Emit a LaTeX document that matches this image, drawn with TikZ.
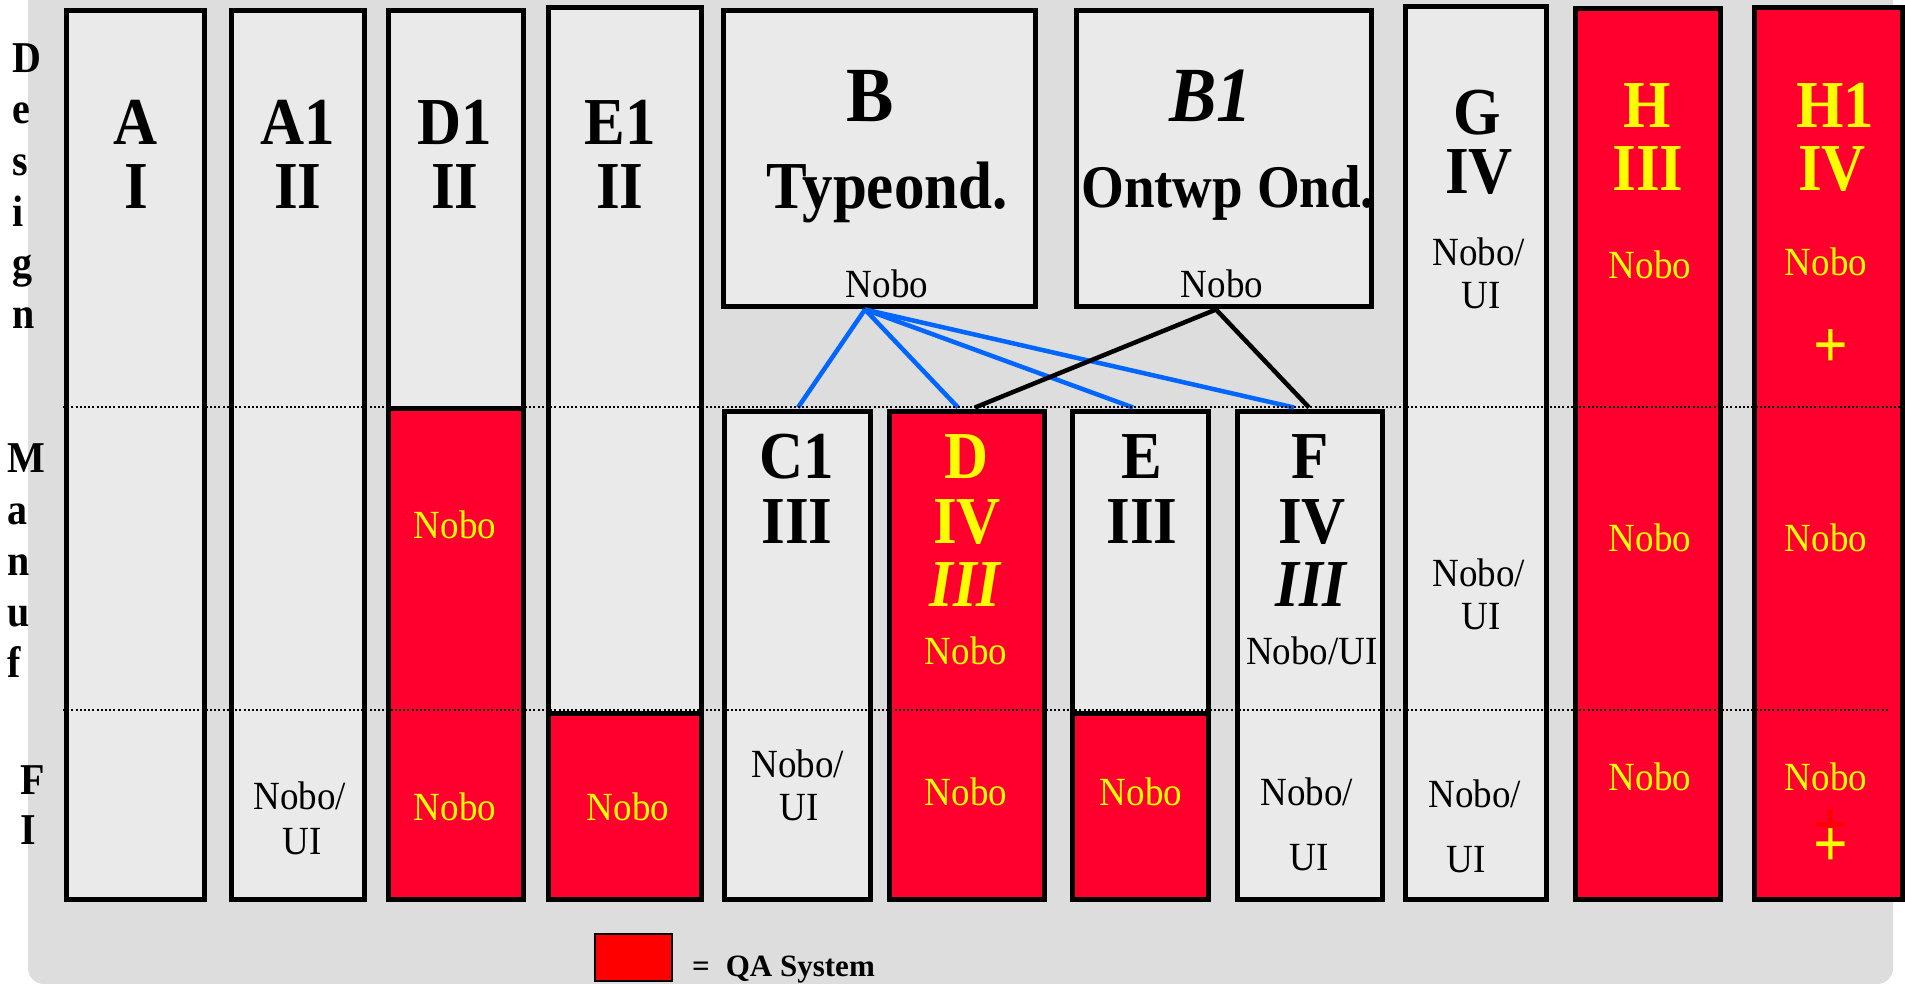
\documentclass[tikz,border=0pt]{standalone}
\usepackage{fontspec}
\setmainfont{Liberation Serif}
\usetikzlibrary{calc}
\definecolor{bggray}{HTML}{DDDDDD}
\definecolor{boxgray}{HTML}{EAEAEA}
\definecolor{qared}{HTML}{FF002E}
\definecolor{legred}{HTML}{FF0000}
\definecolor{linkblue}{HTML}{0066FF}
\definecolor{txtyellow}{HTML}{FFFF00}
\newcommand\colbox[6]{\node[#1, anchor=north west, minimum width={(#5)-(#3)}, minimum height={(#6)-(#4)}] (#2) at (#3,#4) {};}
\begin{document}
\begin{tikzpicture}[x=1pt,y=-1pt,
  box/.style={draw=black, line width=5pt, fill=boxgray, inner sep=0pt, outer sep=0pt},
  redbox/.style={box, fill=qared},
  big/.style={font=\fontsize{61}{64}\selectfont\bfseries, inner sep=0pt, anchor=base, yscale=1.1},
  med/.style={font=\fontsize{37}{44}\selectfont, inner sep=0pt, anchor=base, yscale=1.08},
  side/.style={font=\fontsize{40}{48}\selectfont\bfseries, inner sep=0pt, anchor=base west, yscale=1.1},
  yel/.style={text=txtyellow},
  blueline/.style={draw=linkblue, line width=4.5pt},
  blackline/.style={draw=black, line width=4.5pt},
  dotline/.style={draw=black, line width=2pt, dash pattern=on 2pt off 2.2pt}]
\useasboundingbox (0,0) rectangle (1905,983);
\fill[white] (0,0) rectangle (1905,983);
\begin{scope}
\clip (0,0) rectangle (1905,983);
\fill[bggray, rounded corners=16pt] (28,-30) rectangle (1893,984);
\end{scope}
% columns
\colbox{box}{A}{66}{10}{204}{899}
\colbox{box}{A1}{231}{10}{364}{899}
\colbox{box}{D1}{388}{10}{523}{408}
\colbox{redbox}{D1r}{388}{408}{523}{899}
\colbox{box}{E1}{548}{7}{701}{713}
\colbox{redbox}{E1r}{548}{713}{701}{899}
\colbox{box}{B}{723.5}{10.5}{1035.5}{306.5}
\colbox{box}{B1}{1076.5}{10.5}{1371.5}{306.5}
\colbox{box}{C1}{724.5}{411.5}{870.5}{899}
\colbox{redbox}{D}{889.5}{411.5}{1044.5}{899}
\colbox{box}{E}{1072.5}{411.5}{1208.5}{713}
\colbox{redbox}{Er}{1072.5}{713}{1208.5}{899}
\colbox{box}{F}{1237.5}{411.5}{1382.5}{899}
\colbox{box}{G}{1405.5}{6.5}{1546.5}{899}
\colbox{redbox}{H}{1575.5}{8.5}{1720.5}{899}
\colbox{redbox}{H1}{1754.5}{7.5}{1902.5}{899}
% connectors
\coordinate (Bapex) at ([xshift=141.5pt,yshift=-3pt]B.south west);
\coordinate (B1apex) at ([xshift=139.5pt,yshift=-3pt]B1.south west);
\draw[blueline] (Bapex) -- ([xshift=73.5pt,yshift=4pt]C1.north west);
\draw[blueline] (Bapex) -- ([xshift=68.5pt,yshift=4pt]D.north west);
\draw[blueline] (Bapex) -- ([xshift=60.5pt,yshift=4pt]E.north west);
\draw[blueline] (Bapex) -- ([xshift=56.5pt,yshift=4pt]F.north west);
\draw[blackline] (B1apex) -- ([xshift=85.5pt,yshift=4pt]D.north west);
\draw[blackline] (B1apex) -- ([xshift=71.5pt,yshift=4pt]F.north west);
% phase separators
\coordinate (u1) at (63,407); \coordinate (u2) at (1905,407);
\coordinate (l1) at (63,710); \coordinate (l2) at (1889,710);
\draw[dotline] (u1) -- (u2);
\draw[dotline] (l1) -- (l2);
% side labels
\node[side] (s1) at (12,72) {D};
\node[side] (s2) at (12,123) {e};
\node[side] (s3) at (12,175) {s};
\node[side] (s4) at (12,226) {i};
\node[side] (s5) at (12,277) {g};
\node[side] (s6) at (12,328) {n};
\node[side] (m1) at (7,472) {M};
\node[side] (m2) at (7,524) {a};
\node[side] (m3) at (7,575) {n};
\node[side] (m4) at (7,626) {u};
\node[side] (m5) at (7,677) {f};
\node[side] (f1) at (20,794) {F};
\node[side] (f2) at (20,844) {I};
% A
\node[big] (ta1) at (136,144) {A};
\node[big] (ta2) at (136,208) {I};
% A1
\node[big] (tb1) at (298,144) {A1};
\node[big] (tb2) at (298,208) {II};
\node[med] (tb3) at (300,809) {Nobo/};
\node[med] (tb4) at (302,854) {UI};
% D1
\node[big] (tc1) at (455,144) {D1};
\node[big] (tc2) at (455,208) {II};
\node[med,yel] (tc3) at (455,538) {Nobo};
\node[med,yel] (tc4) at (455,820) {Nobo};
% E1
\node[big] (td1) at (620,144) {E1};
\node[big] (td2) at (620,208) {II};
\node[med,yel] (td3) at (628,820) {Nobo};
% B
\node[big, font=\fontsize{71}{71}\selectfont\bfseries] (te1) at (870,121) {B};
\node[big] (te2) at (887,208) {Typeond.};
\node[med] (te3) at (887,297) {Nobo};
% B1
\node[big, font=\fontsize{71}{71}\selectfont\bfseries\itshape] (tf1) at (1211,121) {B1};
\node[big, font=\fontsize{55}{60}\selectfont\bfseries] (tf2) at (1228,207) {Ontwp Ond.};
\node[med] (tf3) at (1222,297) {Nobo};
% C1
\node[big] (tg1) at (797,478) {C1};
\node[big] (tg2) at (797,543) {III};
\node[med] (tg3) at (798,777) {Nobo/};
\node[med] (tg4) at (799,820) {UI};
% D
\node[big,yel] (th1) at (967,478) {D};
\node[big,yel] (th2) at (967,543) {IV};
\node[big,yel,font=\fontsize{61}{64}\selectfont\bfseries\itshape] (th3) at (965,606) {III};
\node[med,yel] (th4) at (966,664) {Nobo};
\node[med,yel] (th5) at (966,805) {Nobo};
% E
\node[big] (ti1) at (1142,478) {E};
\node[big] (ti2) at (1142,543) {III};
\node[med,yel] (ti3) at (1141,805) {Nobo};
% F
\node[big] (tj1) at (1310,478) {F};
\node[big] (tj2) at (1312,543) {IV};
\node[big,font=\fontsize{61}{64}\selectfont\bfseries\itshape] (tj3) at (1311,606) {III};
\node[med] (tj4) at (1312,664) {Nobo/UI};
\node[med] (tj5) at (1307,805) {Nobo/};
\node[med] (tj6) at (1309,870) {UI};
% G
\node[big] (tk1) at (1477,134) {G};
\node[big] (tk2) at (1479,193) {IV};
\node[med] (tk3) at (1479,265) {Nobo/};
\node[med] (tk4) at (1481,308) {UI};
\node[med] (tk5) at (1479,586) {Nobo/};
\node[med] (tk6) at (1481,629) {UI};
\node[med] (tk7) at (1475,807) {Nobo/};
\node[med] (tk8) at (1466,872) {UI};
% H
\node[big,yel] (tl1) at (1647,127) {H};
\node[big,yel] (tl2) at (1648,190) {III};
\node[med,yel] (tl3) at (1650,278) {Nobo};
\node[med,yel] (tl4) at (1650,551) {Nobo};
\node[med,yel] (tl5) at (1650,790) {Nobo};
% H1
\node[big,yel] (tm1) at (1835,127) {H1};
\node[big,yel] (tm2) at (1832,190) {IV};
\node[med,yel] (tm3) at (1826,275) {Nobo};
\node[big,yel,anchor=center] (tm4) at (1831,349) {+};
\node[med,yel] (tm5) at (1826,551) {Nobo};
\node[med,yel] (tm6) at (1826,790) {Nobo};
\node[big,anchor=center,text=legred] (tm7) at (1831,829) {+};
\node[big,yel,anchor=center] (tm8) at (1831,848) {+};
% legend
\node[draw=black, line width=2pt, fill=legred, inner sep=0pt, outer sep=0pt, minimum width=77pt, minimum height=47pt, anchor=north west] (leg) at (595,934) {};
\node[font=\fontsize{31}{36}\selectfont\bfseries, inner sep=0pt, anchor=base west] (legt) at (692,976) {=\hspace{16pt}QA System};
\end{tikzpicture}
\end{document}
